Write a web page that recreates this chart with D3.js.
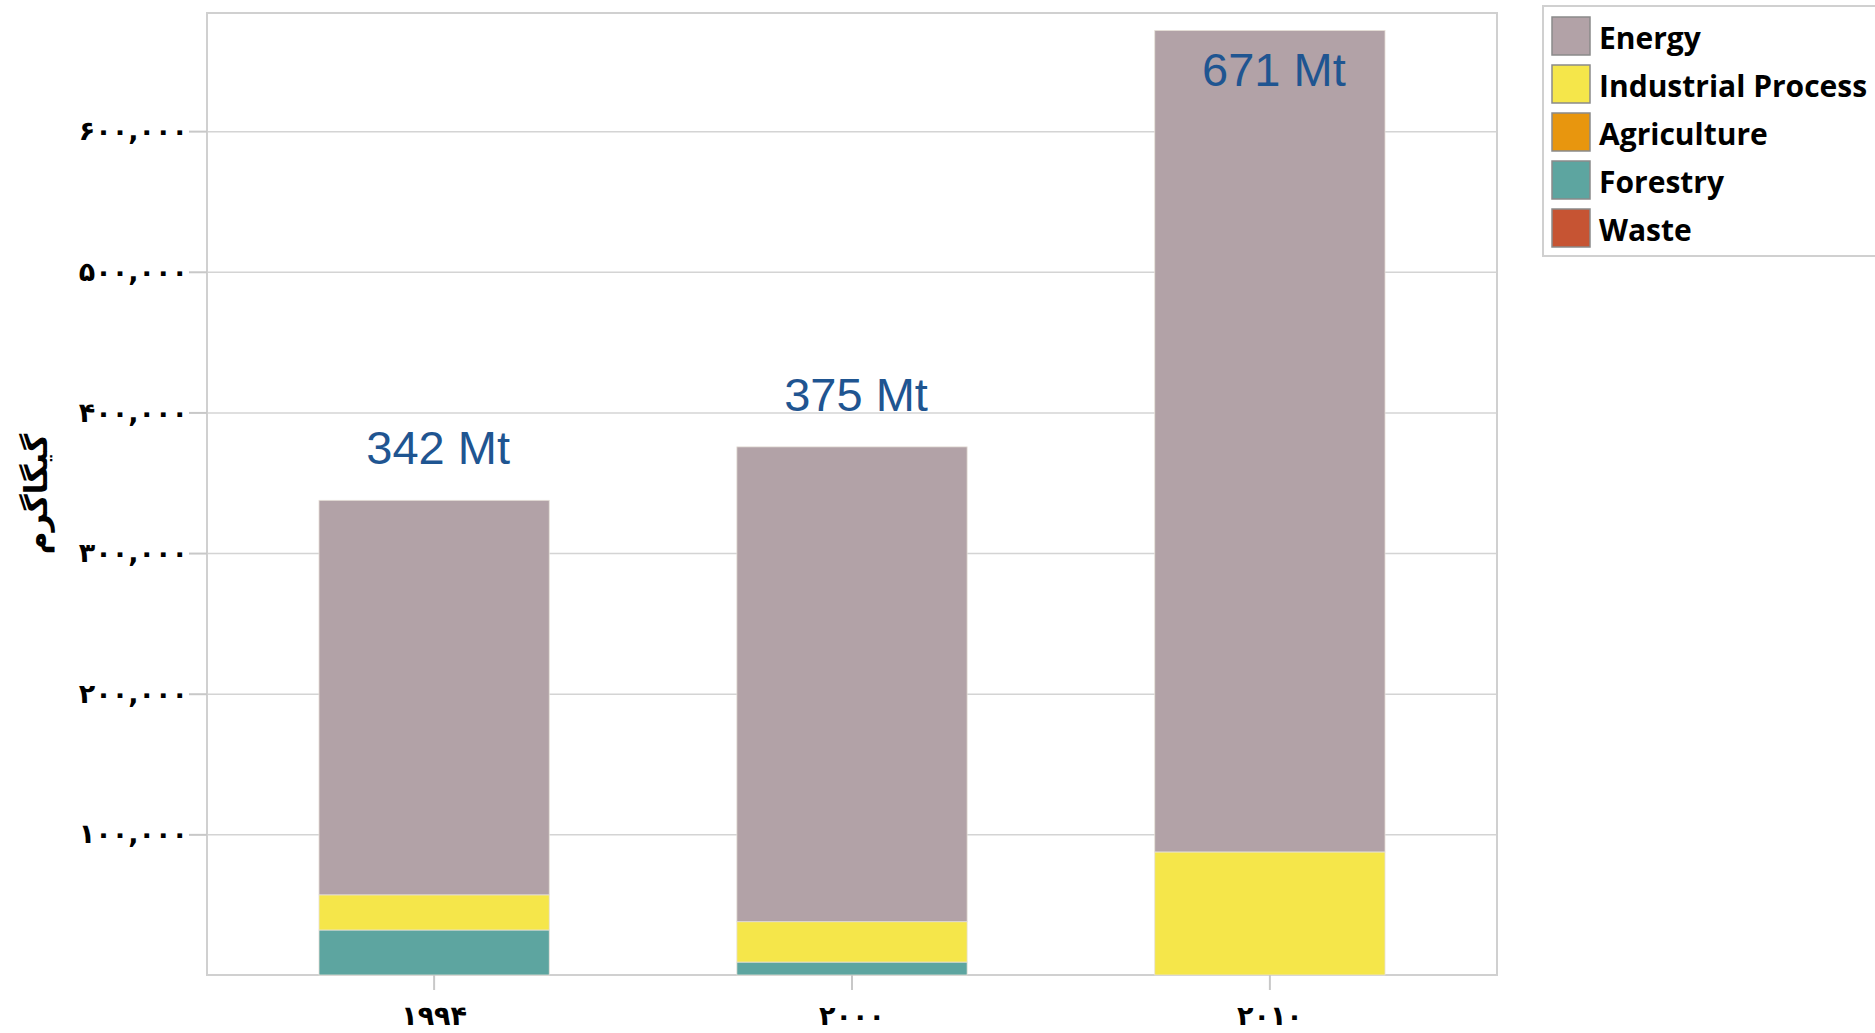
<!DOCTYPE html>
<html>
<head>
<meta charset="utf-8">
<script src="https://cdn.jsdelivr.net/npm/d3@7"></script>
<style>
  html, body { margin: 0; padding: 0; background: #fff; }
  svg { display: block; }
</style>
</head>
<body>
<svg id="chart" width="1875" height="1033"></svg>
<script>
// ---- data ----
const years = ["1994", "2000", "2010"];
const yearLabels = ["۱۹۹۴", "۲۰۰۰", "۲۰۱۰"];
const seriesNames = ["Energy", "Industrial Process", "Agriculture", "Forestry", "Waste"];
const energy     = [280500, 337600, 584100];
const industrial = [25000, 28700, 87500];
const agriculture = [0, 0, 0];
const forestry   = [32000, 9200, 0];
const waste      = [0, 0, 0];
const totalLabels = ["342 Mt", "375 Mt", "671 Mt"];
const yTickValues = [100000, 200000, 300000, 400000, 500000, 600000];
const yTickLabels = ["۱۰۰,۰۰۰", "۲۰۰,۰۰۰", "۳۰۰,۰۰۰", "۴۰۰,۰۰۰", "۵۰۰,۰۰۰", "۶۰۰,۰۰۰"];
const yTitle = "گیگاگرم";
const yMax = 684000;
const colors = ["#b2a2a7", "#f5e64a", "#e8960e", "#5da5a0", "#c65433"];

// ---- layout ----
const svg = d3.select("#chart");
const L = 207, T = 13, R = 1497, B = 975;

const table = years.map((yr, i) => ({
  year: yr,
  "Energy": energy[i],
  "Industrial Process": industrial[i],
  "Agriculture": agriculture[i],
  "Forestry": forestry[i],
  "Waste": waste[i]
}));
const stackOrder = ["Forestry", "Waste", "Agriculture", "Industrial Process", "Energy"];
const stack = d3.stack().keys(stackOrder)(table);
const color = d3.scaleOrdinal().domain(seriesNames).range(colors);

const x = d3.scaleBand().domain(years).range([L, R]).paddingInner(0.449).paddingOuter(0.268);
const y = d3.scaleLinear().domain([0, yMax]).range([B, T]);

// gridlines
svg.append("g")
  .attr("transform", `translate(${L},0)`)
  .call(d3.axisLeft(y).tickValues(yTickValues).tickSize(-(R - L)).tickFormat(""))
  .call(g => g.select(".domain").remove())
  .call(g => g.selectAll("line").attr("stroke", "#d4d4d4").attr("stroke-width", 1.5));

// frame
svg.append("rect").attr("x", L).attr("y", T).attr("width", R - L).attr("height", B - T)
  .attr("fill", "none").attr("stroke", "#d0d0d0").attr("stroke-width", 2);

// bars
svg.append("g").selectAll("g").data(stack).join("g")
  .attr("fill", d => color(d.key))
  .selectAll("rect").data(d => d).join("rect")
  .attr("x", d => x(d.data.year))
  .attr("width", x.bandwidth())
  .attr("y", d => y(d[1]))
  .attr("height", d => Math.max(0, y(d[0]) - y(d[1])))
  .attr("stroke", d => (d[1] - d[0]) > 0 ? "#e6e0d8" : "none")
  .attr("stroke-width", 0.8);

// y axis
const yAxis = svg.append("g")
  .attr("transform", `translate(${L},0)`)
  .call(d3.axisLeft(y).tickValues(yTickValues).tickSize(18).tickPadding(1)
    .tickFormat((d, i) => yTickLabels[i]))
  .call(g => g.select(".domain").remove());
yAxis.selectAll("line").attr("stroke", "#c8c8c8").attr("stroke-width", 2);
yAxis.selectAll("text")
  .attr("font-family", "'DejaVu Sans', sans-serif")
  .attr("font-weight", "bold")
  .attr("font-size", 27)
  .attr("fill", "#000")
  .attr("direction", "ltr");

// x axis
const xAxis = svg.append("g")
  .attr("transform", `translate(0,${B})`)
  .call(d3.axisBottom(x).tickSize(15).tickPadding(16).tickFormat((d, i) => yearLabels[i]))
  .call(g => g.select(".domain").remove());
xAxis.selectAll("line").attr("stroke", "#c8c8c8").attr("stroke-width", 2);
xAxis.selectAll("text")
  .attr("font-family", "'DejaVu Sans', sans-serif")
  .attr("font-weight", "bold")
  .attr("font-size", 27)
  .attr("fill", "#000")
  .attr("direction", "ltr");

// y title
svg.append("text")
  .attr("transform", `translate(36,${(T + B) / 2}) rotate(-90)`)
  .attr("text-anchor", "middle")
  .attr("dominant-baseline", "central")
  .attr("font-family", "'DejaVu Sans', sans-serif")
  .attr("font-weight", "bold")
  .attr("font-size", 31)
  .attr("fill", "#000")
  .text(yTitle);

// total labels
const totals = years.map((yr, i) => energy[i] + industrial[i] + agriculture[i] + forestry[i] + waste[i]);
svg.append("g").selectAll("text").data(totals).join("text")
  .attr("x", (d, i) => x(years[i]) + x.bandwidth() / 2 + 4)
  .attr("y", d => {
    const above = y(d) - 36;
    return above < T + 60 ? y(d) + 56 : above;
  })
  .attr("text-anchor", "middle")
  .attr("font-family", "'Liberation Sans', Arial, sans-serif")
  .attr("font-size", 47)
  .attr("fill", "#1f5591")
  .text((d, i) => totalLabels[i]);

// legend
const lg = svg.append("g");
lg.append("rect").attr("x", 1543).attr("y", 6).attr("width", 400).attr("height", 250)
  .attr("fill", "#fff").attr("stroke", "#d0d0d0").attr("stroke-width", 2);
const items = lg.selectAll("g.item").data(seriesNames).join("g")
  .attr("class", "item")
  .attr("transform", (d, i) => `translate(1552,${17 + i * 48})`);
items.append("rect").attr("width", 38).attr("height", 38)
  .attr("fill", d => color(d)).attr("stroke", "#8a8a8a").attr("stroke-width", 1.5);
items.append("text").attr("x", 47).attr("y", 32)
  .attr("font-family", "'Open Sans', sans-serif")
  .attr("font-weight", "bold")
  .attr("font-size", 30)
  .attr("fill", "#000")
  .text(d => d);
</script>
</body>
</html>
